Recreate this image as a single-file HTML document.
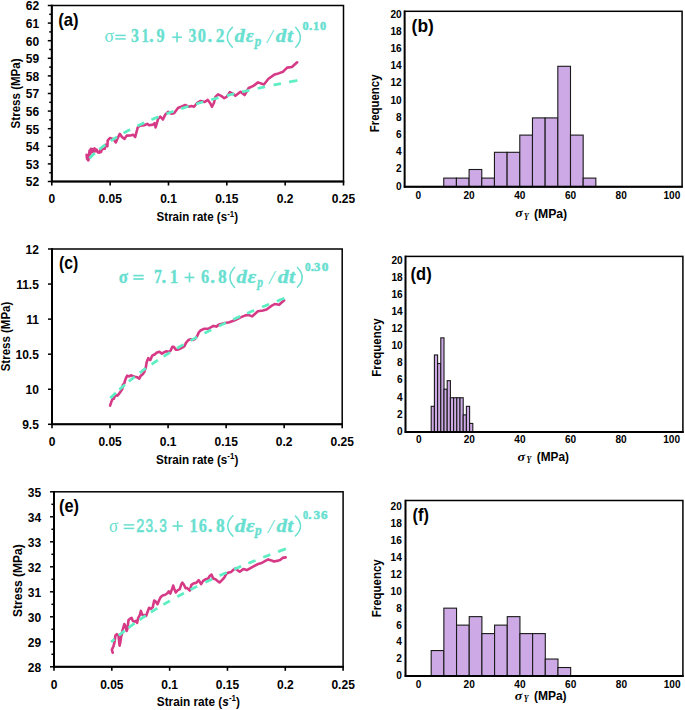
<!DOCTYPE html>
<html><head><meta charset="utf-8"><style>
html,body{margin:0;padding:0;background:#fff;}
body{width:685px;height:710px;overflow:hidden;font-family:"Liberation Sans",sans-serif;}
svg{display:block;}
</style></head><body>
<svg width="685" height="710" viewBox="0 0 685 710">
<rect width="685" height="710" fill="#fff"/>
<rect x="51.80" y="5.50" width="291.70" height="176.00" fill="none" stroke="#000" stroke-width="1.5"/>
<line x1="51.80" y1="4.80" x2="51.80" y2="182.30" stroke="#000" stroke-width="2.00"/>
<line x1="51.00" y1="181.50" x2="344.20" y2="181.50" stroke="#000" stroke-width="2.00"/>
<line x1="47.80" y1="181.50" x2="51.80" y2="181.50" stroke="#000" stroke-width="1.50"/>
<line x1="49.20" y1="172.70" x2="51.80" y2="172.70" stroke="#000" stroke-width="1.50"/>
<text transform="translate(39.10 186.40)" x="-13.32" y="0" font-family='"Liberation Sans", sans-serif' font-weight="bold" font-style="normal" font-size="12.00" fill="#000">52</text>
<line x1="47.80" y1="163.90" x2="51.80" y2="163.90" stroke="#000" stroke-width="1.50"/>
<line x1="49.20" y1="155.10" x2="51.80" y2="155.10" stroke="#000" stroke-width="1.50"/>
<text transform="translate(39.10 168.80)" x="-13.32" y="0" font-family='"Liberation Sans", sans-serif' font-weight="bold" font-style="normal" font-size="12.00" fill="#000">53</text>
<line x1="47.80" y1="146.30" x2="51.80" y2="146.30" stroke="#000" stroke-width="1.50"/>
<line x1="49.20" y1="137.50" x2="51.80" y2="137.50" stroke="#000" stroke-width="1.50"/>
<text transform="translate(39.10 151.20)" x="-13.32" y="0" font-family='"Liberation Sans", sans-serif' font-weight="bold" font-style="normal" font-size="12.00" fill="#000">54</text>
<line x1="47.80" y1="128.70" x2="51.80" y2="128.70" stroke="#000" stroke-width="1.50"/>
<line x1="49.20" y1="119.90" x2="51.80" y2="119.90" stroke="#000" stroke-width="1.50"/>
<text transform="translate(39.10 133.60)" x="-13.32" y="0" font-family='"Liberation Sans", sans-serif' font-weight="bold" font-style="normal" font-size="12.00" fill="#000">55</text>
<line x1="47.80" y1="111.10" x2="51.80" y2="111.10" stroke="#000" stroke-width="1.50"/>
<line x1="49.20" y1="102.30" x2="51.80" y2="102.30" stroke="#000" stroke-width="1.50"/>
<text transform="translate(39.10 116.00)" x="-13.32" y="0" font-family='"Liberation Sans", sans-serif' font-weight="bold" font-style="normal" font-size="12.00" fill="#000">56</text>
<line x1="47.80" y1="93.50" x2="51.80" y2="93.50" stroke="#000" stroke-width="1.50"/>
<line x1="49.20" y1="84.70" x2="51.80" y2="84.70" stroke="#000" stroke-width="1.50"/>
<text transform="translate(39.10 98.40)" x="-13.32" y="0" font-family='"Liberation Sans", sans-serif' font-weight="bold" font-style="normal" font-size="12.00" fill="#000">57</text>
<line x1="47.80" y1="75.90" x2="51.80" y2="75.90" stroke="#000" stroke-width="1.50"/>
<line x1="49.20" y1="67.10" x2="51.80" y2="67.10" stroke="#000" stroke-width="1.50"/>
<text transform="translate(39.10 80.80)" x="-13.32" y="0" font-family='"Liberation Sans", sans-serif' font-weight="bold" font-style="normal" font-size="12.00" fill="#000">58</text>
<line x1="47.80" y1="58.30" x2="51.80" y2="58.30" stroke="#000" stroke-width="1.50"/>
<line x1="49.20" y1="49.50" x2="51.80" y2="49.50" stroke="#000" stroke-width="1.50"/>
<text transform="translate(39.10 63.20)" x="-13.32" y="0" font-family='"Liberation Sans", sans-serif' font-weight="bold" font-style="normal" font-size="12.00" fill="#000">59</text>
<line x1="47.80" y1="40.70" x2="51.80" y2="40.70" stroke="#000" stroke-width="1.50"/>
<line x1="49.20" y1="31.90" x2="51.80" y2="31.90" stroke="#000" stroke-width="1.50"/>
<text transform="translate(39.10 45.60)" x="-13.32" y="0" font-family='"Liberation Sans", sans-serif' font-weight="bold" font-style="normal" font-size="12.00" fill="#000">60</text>
<line x1="47.80" y1="23.10" x2="51.80" y2="23.10" stroke="#000" stroke-width="1.50"/>
<line x1="49.20" y1="14.30" x2="51.80" y2="14.30" stroke="#000" stroke-width="1.50"/>
<text transform="translate(39.10 28.00)" x="-13.32" y="0" font-family='"Liberation Sans", sans-serif' font-weight="bold" font-style="normal" font-size="12.00" fill="#000">61</text>
<line x1="47.80" y1="5.50" x2="51.80" y2="5.50" stroke="#000" stroke-width="1.50"/>
<text transform="translate(39.10 10.40)" x="-13.32" y="0" font-family='"Liberation Sans", sans-serif' font-weight="bold" font-style="normal" font-size="12.00" fill="#000">62</text>
<line x1="51.80" y1="181.50" x2="51.80" y2="185.50" stroke="#000" stroke-width="1.60"/>
<text transform="translate(51.80 202.80)" x="-3.33" y="0" font-family='"Liberation Sans", sans-serif' font-weight="bold" font-style="normal" font-size="12.00" fill="#000">0</text>
<line x1="110.14" y1="181.50" x2="110.14" y2="185.50" stroke="#000" stroke-width="1.60"/>
<text transform="translate(110.14 202.80)" x="-11.67" y="0" font-family='"Liberation Sans", sans-serif' font-weight="bold" font-style="normal" font-size="12.00" fill="#000">0.05</text>
<line x1="168.48" y1="181.50" x2="168.48" y2="185.50" stroke="#000" stroke-width="1.60"/>
<text transform="translate(168.48 202.80)" x="-8.34" y="0" font-family='"Liberation Sans", sans-serif' font-weight="bold" font-style="normal" font-size="12.00" fill="#000">0.1</text>
<line x1="226.82" y1="181.50" x2="226.82" y2="185.50" stroke="#000" stroke-width="1.60"/>
<text transform="translate(226.82 202.80)" x="-11.67" y="0" font-family='"Liberation Sans", sans-serif' font-weight="bold" font-style="normal" font-size="12.00" fill="#000">0.15</text>
<line x1="285.16" y1="181.50" x2="285.16" y2="185.50" stroke="#000" stroke-width="1.60"/>
<text transform="translate(285.16 202.80)" x="-8.34" y="0" font-family='"Liberation Sans", sans-serif' font-weight="bold" font-style="normal" font-size="12.00" fill="#000">0.2</text>
<line x1="343.50" y1="181.50" x2="343.50" y2="185.50" stroke="#000" stroke-width="1.60"/>
<text transform="translate(343.50 202.80)" x="-11.67" y="0" font-family='"Liberation Sans", sans-serif' font-weight="bold" font-style="normal" font-size="12.00" fill="#000">0.25</text>
<text transform="translate(19.90 128.40) rotate(-90) scale(0.9254 1)" x="-0.00" y="0" font-family='"Liberation Sans", sans-serif' font-weight="bold" font-style="normal" font-size="12.50" fill="#000">Stress (MPa)</text>
<g transform="translate(156.60 221.30) scale(0.9235 1)">
<text x="0" y="0" font-family='"Liberation Sans", sans-serif' font-weight="bold" font-size="12.50">Strain rate (s</text>
<text x="76.42" y="-4.6" font-family='"Liberation Sans", sans-serif' font-weight="bold" font-size="8.5">-1</text>
<text x="83.98" y="0" font-family='"Liberation Sans", sans-serif' font-weight="bold" font-size="12.50">)</text>
</g>
<text transform="translate(58.20 26.40) scale(0.9555 1)" x="-0.00" y="0" font-family='"Liberation Sans", sans-serif' font-weight="bold" font-style="normal" font-size="17.50" fill="#000">(a)</text>
<polyline points="86.6,154.9 87.0,158.6 88.4,160.3 88.8,156.5 89.6,150.5 90.1,154.5 90.9,148.7 91.8,152.3 92.8,149.0 93.6,151.8 94.6,148.4 95.6,151.2 96.6,149.6 97.8,152.2 99.3,152.7 100.3,150.2 101.0,152.0 101.9,149.1 104.8,148.7 105.5,144.7 107.4,146.2 107.7,140.3 109.9,138.1 111.4,138.5 113.6,139.2 115.8,142.5 117.2,139.2 119.8,133.8 122.0,137.0 124.5,138.9 126.7,135.6 130.4,135.5 133.3,134.8 135.2,137.0 137.7,127.5 139.9,125.8 144.2,125.3 147.2,123.9 149.3,125.3 153.0,124.6 154.5,123.1 155.6,127.5 158.1,118.8 160.3,116.6 162.9,119.5 165.4,114.4 168.3,111.8 171.2,113.6 174.1,113.2 178.2,107.8 181.2,106.8 185.3,105.0 188.9,106.8 191.5,106.1 194.0,106.8 197.1,103.0 200.7,101.0 204.7,102.0 207.8,99.9 210.4,103.5 211.9,106.8 213.9,103.0 215.5,96.9 218.0,94.3 221.1,95.8 224.2,98.2 226.7,96.9 229.8,92.1 232.3,93.3 235.4,95.8 240.5,91.8 244.6,95.0 248.7,88.0 253.4,85.9 258.0,82.4 263.9,84.5 268.5,78.7 274.4,74.6 278.5,73.4 283.1,71.7 287.2,67.6 291.9,67.0 297.2,62.3" fill="none" stroke="#D63A86" stroke-width="2.6" stroke-linejoin="round" stroke-linecap="round"/>
<path d="M89.42 158.24 L90.26 157.41 L91.10 156.60 L91.93 155.80 L92.77 155.01 L93.61 154.24 L94.45 153.48 L94.87 153.11 M99.34 149.32 L100.18 148.64 L101.02 147.98 L101.85 147.32 L102.69 146.68 L103.53 146.04 L104.37 145.41 L105.21 144.80 L105.35 144.69 M110.80 140.89 L111.63 140.33 L112.47 139.78 L113.31 139.24 L114.15 138.71 L114.99 138.18 L115.83 137.65 L116.66 137.13 L117.08 136.88 M123.51 133.12 L124.35 132.65 L125.19 132.19 L126.03 131.73 L126.86 131.28 L127.70 130.83 L128.54 130.38 L129.38 129.94 L130.08 129.58 M137.48 125.90 L138.32 125.50 L139.16 125.10 L140.00 124.71 L140.84 124.32 L141.67 123.94 L142.51 123.55 L143.35 123.18 L144.19 122.80 L144.33 122.74 M151.45 119.67 L152.29 119.32 L153.13 118.97 L153.97 118.63 L154.81 118.29 L155.65 117.95 L156.48 117.61 L157.32 117.28 L158.16 116.95 L158.44 116.84 M166.40 113.82 L167.24 113.51 L168.08 113.20 L168.92 112.90 L169.76 112.60 L170.60 112.30 L171.43 112.00 L172.27 111.71 L173.11 111.41 L173.53 111.27 M181.21 108.66 L182.05 108.39 L182.89 108.11 L183.73 107.84 L184.57 107.57 L185.41 107.30 L186.24 107.03 L187.08 106.77 L187.92 106.50 L188.48 106.33 M196.02 104.02 L196.86 103.77 L197.70 103.52 L198.54 103.27 L199.38 103.02 L200.22 102.78 L201.05 102.53 L201.89 102.29 L202.73 102.05 L203.29 101.89 M211.11 99.70 L211.95 99.47 L212.79 99.25 L213.63 99.02 L214.47 98.79 L215.31 98.57 L216.14 98.35 L216.98 98.12 L217.82 97.90 L218.52 97.72 M226.90 95.57 L227.74 95.36 L228.58 95.15 L229.42 94.94 L230.26 94.73 L231.09 94.53 L231.93 94.32 L232.77 94.12 L233.61 93.91 L234.17 93.78 M242.13 91.89 L242.97 91.69 L243.81 91.50 L244.65 91.30 L245.49 91.11 L246.32 90.92 L247.16 90.73 L248.00 90.54 L248.84 90.35 L249.40 90.22 M257.64 88.40 L258.48 88.22 L259.32 88.04 L260.16 87.86 L260.99 87.68 L261.83 87.50 L262.67 87.32 L263.51 87.14 L264.35 86.96 L265.05 86.82 M273.57 85.06 L274.41 84.89 L275.25 84.72 L276.08 84.55 L276.92 84.38 L277.76 84.21 L278.60 84.04 L279.44 83.88 L280.28 83.71 L280.97 83.57 M289.08 82.00 L289.92 81.84 L290.75 81.68 L291.59 81.52 L292.43 81.37 L293.27 81.21 L294.11 81.05 L294.95 80.89 L295.78 80.74 L296.62 80.58 L297.32 80.45" fill="none" stroke="#5FEEC4" stroke-width="2.75" stroke-linecap="butt"/>
<rect x="52.00" y="249.00" width="290.20" height="175.30" fill="none" stroke="#000" stroke-width="1.5"/>
<line x1="52.00" y1="248.30" x2="52.00" y2="425.10" stroke="#000" stroke-width="2.00"/>
<line x1="51.20" y1="424.30" x2="342.90" y2="424.30" stroke="#000" stroke-width="2.00"/>
<line x1="48.00" y1="424.30" x2="52.00" y2="424.30" stroke="#000" stroke-width="1.50"/>
<text transform="translate(38.80 429.20)" x="-16.68" y="0" font-family='"Liberation Sans", sans-serif' font-weight="bold" font-style="normal" font-size="12.00" fill="#000">9.5</text>
<line x1="48.00" y1="389.24" x2="52.00" y2="389.24" stroke="#000" stroke-width="1.50"/>
<text transform="translate(38.80 394.14)" x="-13.32" y="0" font-family='"Liberation Sans", sans-serif' font-weight="bold" font-style="normal" font-size="12.00" fill="#000">10</text>
<line x1="48.00" y1="354.18" x2="52.00" y2="354.18" stroke="#000" stroke-width="1.50"/>
<text transform="translate(38.80 359.08)" x="-23.34" y="0" font-family='"Liberation Sans", sans-serif' font-weight="bold" font-style="normal" font-size="12.00" fill="#000">10.5</text>
<line x1="48.00" y1="319.12" x2="52.00" y2="319.12" stroke="#000" stroke-width="1.50"/>
<text transform="translate(38.80 324.02)" x="-12.66" y="0" font-family='"Liberation Sans", sans-serif' font-weight="bold" font-style="normal" font-size="12.00" fill="#000">11</text>
<line x1="48.00" y1="284.06" x2="52.00" y2="284.06" stroke="#000" stroke-width="1.50"/>
<text transform="translate(38.80 288.96)" x="-22.68" y="0" font-family='"Liberation Sans", sans-serif' font-weight="bold" font-style="normal" font-size="12.00" fill="#000">11.5</text>
<line x1="48.00" y1="249.00" x2="52.00" y2="249.00" stroke="#000" stroke-width="1.50"/>
<text transform="translate(38.80 253.90)" x="-13.32" y="0" font-family='"Liberation Sans", sans-serif' font-weight="bold" font-style="normal" font-size="12.00" fill="#000">12</text>
<line x1="52.00" y1="424.30" x2="52.00" y2="428.30" stroke="#000" stroke-width="1.60"/>
<text transform="translate(52.00 446.00)" x="-3.33" y="0" font-family='"Liberation Sans", sans-serif' font-weight="bold" font-style="normal" font-size="12.00" fill="#000">0</text>
<line x1="110.04" y1="424.30" x2="110.04" y2="428.30" stroke="#000" stroke-width="1.60"/>
<text transform="translate(110.04 446.00)" x="-11.67" y="0" font-family='"Liberation Sans", sans-serif' font-weight="bold" font-style="normal" font-size="12.00" fill="#000">0.05</text>
<line x1="168.08" y1="424.30" x2="168.08" y2="428.30" stroke="#000" stroke-width="1.60"/>
<text transform="translate(168.08 446.00)" x="-8.34" y="0" font-family='"Liberation Sans", sans-serif' font-weight="bold" font-style="normal" font-size="12.00" fill="#000">0.1</text>
<line x1="226.12" y1="424.30" x2="226.12" y2="428.30" stroke="#000" stroke-width="1.60"/>
<text transform="translate(226.12 446.00)" x="-11.67" y="0" font-family='"Liberation Sans", sans-serif' font-weight="bold" font-style="normal" font-size="12.00" fill="#000">0.15</text>
<line x1="284.16" y1="424.30" x2="284.16" y2="428.30" stroke="#000" stroke-width="1.60"/>
<text transform="translate(284.16 446.00)" x="-8.34" y="0" font-family='"Liberation Sans", sans-serif' font-weight="bold" font-style="normal" font-size="12.00" fill="#000">0.2</text>
<line x1="342.20" y1="424.30" x2="342.20" y2="428.30" stroke="#000" stroke-width="1.60"/>
<text transform="translate(342.20 446.00)" x="-11.67" y="0" font-family='"Liberation Sans", sans-serif' font-weight="bold" font-style="normal" font-size="12.00" fill="#000">0.25</text>
<text transform="translate(10.00 371.30) rotate(-90) scale(0.9188 1)" x="-0.00" y="0" font-family='"Liberation Sans", sans-serif' font-weight="bold" font-style="normal" font-size="12.50" fill="#000">Stress (MPa)</text>
<g transform="translate(156.10 463.60) scale(0.9326 1)">
<text x="0" y="0" font-family='"Liberation Sans", sans-serif' font-weight="bold" font-size="12.50">Strain rate (s</text>
<text x="76.42" y="-4.6" font-family='"Liberation Sans", sans-serif' font-weight="bold" font-size="8.5">-1</text>
<text x="83.98" y="0" font-family='"Liberation Sans", sans-serif' font-weight="bold" font-size="12.50">)</text>
</g>
<text transform="translate(59.00 269.40) scale(0.8993 1)" x="-0.00" y="0" font-family='"Liberation Sans", sans-serif' font-weight="bold" font-style="normal" font-size="17.50" fill="#000">(c)</text>
<polyline points="110.1,405.6 111.2,402.3 112.3,399.4 113.8,398.7 115.2,395.0 117.4,395.8 119.2,393.6 120.7,391.4 122.2,389.2 122.9,384.8 124.3,383.4 125.1,380.4 126.2,377.5 127.3,375.7 129.1,376.4 130.9,375.3 133.1,376.1 134.9,376.8 137.1,377.2 139.3,378.6 140.8,375.7 143.0,373.9 144.4,371.7 145.9,367.0 146.6,362.5 148.2,358.1 150.2,360.1 152.2,355.7 154.6,354.5 157.0,352.5 159.5,351.7 161.9,353.7 164.3,352.1 166.3,351.3 168.7,352.1 170.7,350.5 172.3,346.9 173.9,346.9 175.9,349.7 177.9,349.7 180.3,348.5 182.8,347.3 184.4,346.1 186.0,342.9 188.4,340.0 190.8,339.2 193.2,340.0 195.2,338.8 197.2,336.0 198.8,332.4 200.5,330.5 203.9,328.8 208.2,328.8 213.4,325.9 216.3,326.6 219.2,324.4 225.0,323.0 229.4,322.2 235.3,320.0 241.1,317.1 245.5,315.4 248.4,314.9 252.0,316.4 257.9,311.3 263.0,310.5 266.6,309.5 271.0,306.2 274.7,304.0 279.1,304.7 284.2,300.3" fill="none" stroke="#D63A86" stroke-width="2.6" stroke-linejoin="round" stroke-linecap="round"/>
<path d="M110.35 398.17 L111.05 397.48 L111.75 396.79 L112.45 396.10 L113.15 395.42 L113.84 394.75 L114.54 394.08 L115.24 393.42 L115.82 392.87 M119.32 389.65 L120.02 389.02 L120.72 388.39 L121.42 387.77 L122.12 387.16 L122.81 386.54 L123.51 385.94 L124.21 385.33 L124.91 384.73 L125.03 384.63 M128.87 381.41 L129.57 380.83 L130.27 380.26 L130.97 379.70 L131.67 379.13 L132.37 378.57 L133.07 378.02 L133.76 377.46 L134.46 376.91 L134.70 376.73 M139.82 372.80 L140.52 372.28 L141.22 371.76 L141.92 371.24 L142.62 370.72 L143.32 370.21 L144.02 369.70 L144.72 369.20 L145.41 368.69 L146.00 368.27 M151.59 364.35 L152.29 363.87 L152.99 363.39 L153.69 362.92 L154.38 362.45 L155.08 361.98 L155.78 361.51 L156.48 361.04 L157.18 360.58 L157.88 360.12 L157.88 360.12 M163.59 356.43 L164.29 355.98 L164.98 355.54 L165.68 355.10 L166.38 354.67 L167.08 354.23 L167.78 353.80 L168.48 353.37 L169.18 352.94 L169.88 352.51 L169.99 352.44 M176.98 348.26 L177.68 347.85 L178.38 347.44 L179.08 347.03 L179.78 346.63 L180.48 346.23 L181.18 345.83 L181.88 345.43 L182.58 345.03 L183.27 344.63 L183.51 344.50 M190.50 340.61 L191.20 340.23 L191.90 339.85 L192.59 339.48 L193.29 339.10 L193.99 338.72 L194.69 338.35 L195.39 337.98 L196.09 337.60 L196.79 337.23 L197.14 337.05 M204.48 333.24 L205.18 332.88 L205.87 332.53 L206.57 332.17 L207.27 331.82 L207.97 331.47 L208.67 331.12 L209.37 330.77 L210.07 330.42 L210.77 330.07 L211.23 329.84 M219.04 326.04 L219.74 325.71 L220.44 325.38 L221.13 325.05 L221.83 324.71 L222.53 324.38 L223.23 324.05 L223.93 323.73 L224.63 323.40 L225.33 323.07 L225.91 322.80 M233.37 319.38 L234.07 319.07 L234.76 318.75 L235.46 318.44 L236.16 318.12 L236.86 317.81 L237.56 317.50 L238.26 317.19 L238.96 316.88 L239.66 316.57 L240.24 316.32 M247.11 313.33 L247.81 313.03 L248.51 312.73 L249.21 312.43 L249.91 312.13 L250.61 311.84 L251.31 311.54 L252.01 311.24 L252.70 310.95 L253.40 310.66 L254.10 310.36 L254.10 310.36 M262.02 307.09 L262.72 306.80 L263.42 306.52 L264.12 306.24 L264.82 305.95 L265.52 305.67 L266.22 305.39 L266.92 305.11 L267.62 304.83 L268.31 304.55 L269.01 304.27 L269.13 304.22 M276.82 301.20 L277.52 300.93 L278.22 300.66 L278.92 300.39 L279.61 300.12 L280.31 299.85 L281.01 299.58 L281.71 299.31 L282.41 299.04 L283.11 298.78 L283.81 298.51 L284.51 298.24 L284.51 298.24" fill="none" stroke="#5FEEC4" stroke-width="2.75" stroke-linecap="butt"/>
<rect x="54.00" y="491.80" width="289.10" height="175.00" fill="none" stroke="#000" stroke-width="1.5"/>
<line x1="54.00" y1="491.10" x2="54.00" y2="667.60" stroke="#000" stroke-width="2.00"/>
<line x1="53.20" y1="666.80" x2="343.80" y2="666.80" stroke="#000" stroke-width="2.00"/>
<line x1="50.00" y1="666.80" x2="54.00" y2="666.80" stroke="#000" stroke-width="1.50"/>
<line x1="51.40" y1="654.30" x2="54.00" y2="654.30" stroke="#000" stroke-width="1.50"/>
<text transform="translate(41.10 671.70)" x="-13.32" y="0" font-family='"Liberation Sans", sans-serif' font-weight="bold" font-style="normal" font-size="12.00" fill="#000">28</text>
<line x1="50.00" y1="641.80" x2="54.00" y2="641.80" stroke="#000" stroke-width="1.50"/>
<line x1="51.40" y1="629.30" x2="54.00" y2="629.30" stroke="#000" stroke-width="1.50"/>
<text transform="translate(41.10 646.70)" x="-13.32" y="0" font-family='"Liberation Sans", sans-serif' font-weight="bold" font-style="normal" font-size="12.00" fill="#000">29</text>
<line x1="50.00" y1="616.80" x2="54.00" y2="616.80" stroke="#000" stroke-width="1.50"/>
<line x1="51.40" y1="604.30" x2="54.00" y2="604.30" stroke="#000" stroke-width="1.50"/>
<text transform="translate(41.10 621.70)" x="-13.32" y="0" font-family='"Liberation Sans", sans-serif' font-weight="bold" font-style="normal" font-size="12.00" fill="#000">30</text>
<line x1="50.00" y1="591.80" x2="54.00" y2="591.80" stroke="#000" stroke-width="1.50"/>
<line x1="51.40" y1="579.30" x2="54.00" y2="579.30" stroke="#000" stroke-width="1.50"/>
<text transform="translate(41.10 596.70)" x="-13.32" y="0" font-family='"Liberation Sans", sans-serif' font-weight="bold" font-style="normal" font-size="12.00" fill="#000">31</text>
<line x1="50.00" y1="566.80" x2="54.00" y2="566.80" stroke="#000" stroke-width="1.50"/>
<line x1="51.40" y1="554.30" x2="54.00" y2="554.30" stroke="#000" stroke-width="1.50"/>
<text transform="translate(41.10 571.70)" x="-13.32" y="0" font-family='"Liberation Sans", sans-serif' font-weight="bold" font-style="normal" font-size="12.00" fill="#000">32</text>
<line x1="50.00" y1="541.80" x2="54.00" y2="541.80" stroke="#000" stroke-width="1.50"/>
<line x1="51.40" y1="529.30" x2="54.00" y2="529.30" stroke="#000" stroke-width="1.50"/>
<text transform="translate(41.10 546.70)" x="-13.32" y="0" font-family='"Liberation Sans", sans-serif' font-weight="bold" font-style="normal" font-size="12.00" fill="#000">33</text>
<line x1="50.00" y1="516.80" x2="54.00" y2="516.80" stroke="#000" stroke-width="1.50"/>
<line x1="51.40" y1="504.30" x2="54.00" y2="504.30" stroke="#000" stroke-width="1.50"/>
<text transform="translate(41.10 521.70)" x="-13.32" y="0" font-family='"Liberation Sans", sans-serif' font-weight="bold" font-style="normal" font-size="12.00" fill="#000">34</text>
<line x1="50.00" y1="491.80" x2="54.00" y2="491.80" stroke="#000" stroke-width="1.50"/>
<text transform="translate(41.10 496.70)" x="-13.32" y="0" font-family='"Liberation Sans", sans-serif' font-weight="bold" font-style="normal" font-size="12.00" fill="#000">35</text>
<line x1="54.00" y1="666.80" x2="54.00" y2="670.80" stroke="#000" stroke-width="1.60"/>
<text transform="translate(54.00 688.60)" x="-3.33" y="0" font-family='"Liberation Sans", sans-serif' font-weight="bold" font-style="normal" font-size="12.00" fill="#000">0</text>
<line x1="111.82" y1="666.80" x2="111.82" y2="670.80" stroke="#000" stroke-width="1.60"/>
<text transform="translate(111.82 688.60)" x="-11.67" y="0" font-family='"Liberation Sans", sans-serif' font-weight="bold" font-style="normal" font-size="12.00" fill="#000">0.05</text>
<line x1="169.64" y1="666.80" x2="169.64" y2="670.80" stroke="#000" stroke-width="1.60"/>
<text transform="translate(169.64 688.60)" x="-8.34" y="0" font-family='"Liberation Sans", sans-serif' font-weight="bold" font-style="normal" font-size="12.00" fill="#000">0.1</text>
<line x1="227.46" y1="666.80" x2="227.46" y2="670.80" stroke="#000" stroke-width="1.60"/>
<text transform="translate(227.46 688.60)" x="-11.67" y="0" font-family='"Liberation Sans", sans-serif' font-weight="bold" font-style="normal" font-size="12.00" fill="#000">0.15</text>
<line x1="285.28" y1="666.80" x2="285.28" y2="670.80" stroke="#000" stroke-width="1.60"/>
<text transform="translate(285.28 688.60)" x="-8.34" y="0" font-family='"Liberation Sans", sans-serif' font-weight="bold" font-style="normal" font-size="12.00" fill="#000">0.2</text>
<line x1="343.10" y1="666.80" x2="343.10" y2="670.80" stroke="#000" stroke-width="1.60"/>
<text transform="translate(343.10 688.60)" x="-11.67" y="0" font-family='"Liberation Sans", sans-serif' font-weight="bold" font-style="normal" font-size="12.00" fill="#000">0.25</text>
<text transform="translate(22.20 616.90) rotate(-90) scale(0.9597 1)" x="-0.00" y="0" font-family='"Liberation Sans", sans-serif' font-weight="bold" font-style="normal" font-size="12.50" fill="#000">Stress (MPa)</text>
<g transform="translate(156.80 706.00) scale(0.9440 1)">
<text x="0" y="0" font-family='"Liberation Sans", sans-serif' font-weight="bold" font-size="12.50">Strain rate (</text>
<text x="69.47" y="0" font-family='"Liberation Sans", sans-serif' font-weight="bold" font-style="italic" font-size="12.50">s</text>
<text x="76.42" y="-4.6" font-family='"Liberation Sans", sans-serif' font-weight="bold" font-size="8.5">-1</text>
<text x="83.98" y="0" font-family='"Liberation Sans", sans-serif' font-weight="bold" font-size="12.50">)</text>
</g>
<text transform="translate(59.00 512.00) scale(0.9368 1)" x="-0.00" y="0" font-family='"Liberation Sans", sans-serif' font-weight="bold" font-style="normal" font-size="17.50" fill="#000">(e)</text>
<polyline points="112.7,652.7 111.9,649.6 113.4,646.5 114.6,641.9 115.4,635.7 116.9,634.1 118.5,635.7 119.6,645.7 120.4,641.9 121.2,636.4 122.0,634.1 122.3,631.0 124.3,624.0 125.4,626.4 126.6,631.0 127.4,628.7 128.5,620.2 130.1,618.6 131.6,617.8 132.8,620.9 134.4,621.7 135.9,620.9 137.1,622.9 138.2,617.8 139.8,615.1 140.9,610.9 142.1,614.7 144.2,615.0 146.1,616.0 147.5,612.0 149.1,607.8 150.9,608.9 152.8,607.1 154.2,600.5 155.7,601.6 157.5,604.2 159.0,600.5 160.8,596.9 162.6,595.4 165.2,594.7 167.4,593.2 168.8,591.4 170.3,593.6 172.1,588.9 173.2,585.6 174.3,588.9 175.8,592.5 177.6,590.3 179.8,589.2 181.2,584.5 182.3,582.7 183.8,584.5 185.6,588.3 187.2,588.1 189.8,590.5 191.4,584.9 193.8,583.3 196.2,582.9 198.7,580.1 201.1,584.1 203.1,580.9 205.5,579.3 208.3,578.5 209.9,575.7 211.5,574.5 213.1,578.5 215.5,579.3 217.9,581.3 219.5,582.5 222.0,580.1 224.4,577.3 226.4,573.7 228.8,572.5 231.2,571.9 233.2,570.0 235.2,568.4 237.2,570.0 239.7,571.7 243.3,569.1 246.9,570.1 250.4,568.1 254.0,566.1 258.1,564.0 261.7,563.0 265.3,560.9 268.3,559.4 271.4,560.4 273.9,561.5 277.0,560.9 280.1,559.9 282.6,557.9 285.7,557.4" fill="none" stroke="#D63A86" stroke-width="2.6" stroke-linejoin="round" stroke-linecap="round"/>
<path d="M111.13 642.06 L111.83 641.44 L112.53 640.82 L113.23 640.20 L113.93 639.59 L114.52 639.09 M118.71 635.54 L119.41 634.96 L120.11 634.39 L120.81 633.82 L121.51 633.25 L122.21 632.69 L122.91 632.13 L123.61 631.58 L124.31 631.03 L124.66 630.75 M128.51 627.79 L129.21 627.27 L129.91 626.74 L130.61 626.22 L131.31 625.70 L132.01 625.19 L132.71 624.67 L133.41 624.16 L134.11 623.66 L134.58 623.32 M139.48 619.86 L140.18 619.38 L140.88 618.90 L141.58 618.42 L142.28 617.95 L142.98 617.47 L143.68 617.00 L144.38 616.53 L145.08 616.07 L145.78 615.60 L145.78 615.60 M150.91 612.26 L151.61 611.82 L152.31 611.37 L153.01 610.93 L153.71 610.49 L154.41 610.05 L155.11 609.62 L155.81 609.18 L156.51 608.75 L157.21 608.32 L157.32 608.25 M163.39 604.60 L164.09 604.18 L164.79 603.77 L165.49 603.36 L166.19 602.95 L166.89 602.55 L167.59 602.14 L168.29 601.74 L168.99 601.34 L169.69 600.94 L169.92 600.80 M177.27 596.70 L177.97 596.32 L178.67 595.93 L179.37 595.55 L180.07 595.18 L180.77 594.80 L181.47 594.42 L182.17 594.05 L182.87 593.67 L183.57 593.30 L183.92 593.12 M190.45 589.71 L191.15 589.35 L191.85 588.99 L192.55 588.64 L193.25 588.28 L193.95 587.93 L194.65 587.58 L195.35 587.22 L196.05 586.87 L196.75 586.52 L197.21 586.29 M205.38 582.30 L206.08 581.96 L206.78 581.63 L207.48 581.30 L208.18 580.96 L208.88 580.63 L209.58 580.30 L210.28 579.97 L210.98 579.64 L211.68 579.31 L212.14 579.10 M219.61 575.66 L220.31 575.34 L221.01 575.03 L221.71 574.71 L222.41 574.40 L223.11 574.08 L223.81 573.77 L224.51 573.46 L225.21 573.15 L225.91 572.84 L226.61 572.53 L226.61 572.53 M234.19 569.22 L234.89 568.92 L235.59 568.62 L236.29 568.33 L236.99 568.03 L237.69 567.73 L238.39 567.43 L239.09 567.14 L239.79 566.84 L240.49 566.55 L241.19 566.25 L241.19 566.25 M248.42 563.26 L249.12 562.97 L249.82 562.69 L250.52 562.40 L251.22 562.12 L251.92 561.83 L252.62 561.55 L253.32 561.27 L254.02 560.99 L254.72 560.71 L255.42 560.43 L255.53 560.38 M263.23 557.34 L263.93 557.06 L264.63 556.79 L265.33 556.52 L266.03 556.25 L266.73 555.98 L267.43 555.71 L268.13 555.44 L268.83 555.17 L269.53 554.90 L270.23 554.63 L270.35 554.59 M278.04 551.68 L278.74 551.42 L279.44 551.16 L280.14 550.90 L280.84 550.64 L281.54 550.38 L282.24 550.12 L282.94 549.86 L283.64 549.60 L284.34 549.35 L285.04 549.09 L285.74 548.83 L285.86 548.79" fill="none" stroke="#5FEEC4" stroke-width="2.75" stroke-linecap="butt"/>
<rect x="443.75" y="178.10" width="12.67" height="8.60" fill="#CDAAE6" stroke="#1a1a1a" stroke-width="1.1"/>
<rect x="456.42" y="178.10" width="12.68" height="8.60" fill="#CDAAE6" stroke="#1a1a1a" stroke-width="1.1"/>
<rect x="469.10" y="169.50" width="12.68" height="17.20" fill="#CDAAE6" stroke="#1a1a1a" stroke-width="1.1"/>
<rect x="481.77" y="178.10" width="12.68" height="8.60" fill="#CDAAE6" stroke="#1a1a1a" stroke-width="1.1"/>
<rect x="494.45" y="152.30" width="12.68" height="34.40" fill="#CDAAE6" stroke="#1a1a1a" stroke-width="1.1"/>
<rect x="507.12" y="152.30" width="12.67" height="34.40" fill="#CDAAE6" stroke="#1a1a1a" stroke-width="1.1"/>
<rect x="519.80" y="135.10" width="12.68" height="51.60" fill="#CDAAE6" stroke="#1a1a1a" stroke-width="1.1"/>
<rect x="532.48" y="117.90" width="12.67" height="68.80" fill="#CDAAE6" stroke="#1a1a1a" stroke-width="1.1"/>
<rect x="545.15" y="117.90" width="12.68" height="68.80" fill="#CDAAE6" stroke="#1a1a1a" stroke-width="1.1"/>
<rect x="557.83" y="66.30" width="12.67" height="120.40" fill="#CDAAE6" stroke="#1a1a1a" stroke-width="1.1"/>
<rect x="570.50" y="135.10" width="12.67" height="51.60" fill="#CDAAE6" stroke="#1a1a1a" stroke-width="1.1"/>
<rect x="583.17" y="178.10" width="12.68" height="8.60" fill="#CDAAE6" stroke="#1a1a1a" stroke-width="1.1"/>
<rect x="404.60" y="11.30" width="277.50" height="175.40" fill="none" stroke="#000" stroke-width="1.5"/>
<line x1="404.60" y1="10.60" x2="404.60" y2="187.70" stroke="#000" stroke-width="1.70"/>
<line x1="403.80" y1="186.70" x2="682.90" y2="186.70" stroke="#000" stroke-width="2.00"/>
<text transform="translate(401.60 189.60) scale(0.9200 1)" x="-6.11" y="0" font-family='"Liberation Sans", sans-serif' font-weight="bold" font-style="normal" font-size="11.00" fill="#000">0</text>
<text transform="translate(401.60 172.40) scale(0.9200 1)" x="-6.11" y="0" font-family='"Liberation Sans", sans-serif' font-weight="bold" font-style="normal" font-size="11.00" fill="#000">2</text>
<text transform="translate(401.60 155.20) scale(0.9200 1)" x="-6.11" y="0" font-family='"Liberation Sans", sans-serif' font-weight="bold" font-style="normal" font-size="11.00" fill="#000">4</text>
<text transform="translate(401.60 138.00) scale(0.9200 1)" x="-6.11" y="0" font-family='"Liberation Sans", sans-serif' font-weight="bold" font-style="normal" font-size="11.00" fill="#000">6</text>
<text transform="translate(401.60 120.80) scale(0.9200 1)" x="-6.11" y="0" font-family='"Liberation Sans", sans-serif' font-weight="bold" font-style="normal" font-size="11.00" fill="#000">8</text>
<text transform="translate(401.60 103.60) scale(0.9200 1)" x="-12.21" y="0" font-family='"Liberation Sans", sans-serif' font-weight="bold" font-style="normal" font-size="11.00" fill="#000">10</text>
<text transform="translate(401.60 86.40) scale(0.9200 1)" x="-12.21" y="0" font-family='"Liberation Sans", sans-serif' font-weight="bold" font-style="normal" font-size="11.00" fill="#000">12</text>
<text transform="translate(401.60 69.20) scale(0.9200 1)" x="-12.21" y="0" font-family='"Liberation Sans", sans-serif' font-weight="bold" font-style="normal" font-size="11.00" fill="#000">14</text>
<text transform="translate(401.60 52.00) scale(0.9200 1)" x="-12.21" y="0" font-family='"Liberation Sans", sans-serif' font-weight="bold" font-style="normal" font-size="11.00" fill="#000">16</text>
<text transform="translate(401.60 34.80) scale(0.9200 1)" x="-12.21" y="0" font-family='"Liberation Sans", sans-serif' font-weight="bold" font-style="normal" font-size="11.00" fill="#000">18</text>
<text transform="translate(401.60 17.60) scale(0.9200 1)" x="-12.21" y="0" font-family='"Liberation Sans", sans-serif' font-weight="bold" font-style="normal" font-size="11.00" fill="#000">20</text>
<text transform="translate(418.40 198.60) scale(0.9200 1)" x="-3.05" y="0" font-family='"Liberation Sans", sans-serif' font-weight="bold" font-style="normal" font-size="11.00" fill="#000">0</text>
<text transform="translate(469.10 198.60) scale(0.9200 1)" x="-6.11" y="0" font-family='"Liberation Sans", sans-serif' font-weight="bold" font-style="normal" font-size="11.00" fill="#000">20</text>
<text transform="translate(519.80 198.60) scale(0.9200 1)" x="-6.11" y="0" font-family='"Liberation Sans", sans-serif' font-weight="bold" font-style="normal" font-size="11.00" fill="#000">40</text>
<text transform="translate(570.50 198.60) scale(0.9200 1)" x="-6.11" y="0" font-family='"Liberation Sans", sans-serif' font-weight="bold" font-style="normal" font-size="11.00" fill="#000">60</text>
<text transform="translate(621.20 198.60) scale(0.9200 1)" x="-6.11" y="0" font-family='"Liberation Sans", sans-serif' font-weight="bold" font-style="normal" font-size="11.00" fill="#000">80</text>
<text transform="translate(671.90 198.60) scale(0.9200 1)" x="-9.19" y="0" font-family='"Liberation Sans", sans-serif' font-weight="bold" font-style="normal" font-size="11.00" fill="#000">100</text>
<text transform="translate(378.80 132.30) rotate(-90) scale(0.9545 1)" x="-0.00" y="0" font-family='"Liberation Sans", sans-serif' font-weight="bold" font-style="normal" font-size="12.00" fill="#000">Frequency</text>
<text transform="translate(515.20 217.30) scale(1.1186 1)" x="-0.00" y="0" font-family='"Liberation Serif", serif' font-weight="bold" font-style="italic" font-size="12.50" fill="#000">σ</text>
<text transform="translate(524.10 219.80) scale(0.7457 1)" x="-0.00" y="0" font-family='"Liberation Serif", serif' font-weight="bold" font-style="italic" font-size="10.30" fill="#000">Y</text>
<text transform="translate(533.90 217.60) scale(1.0202 1)" x="-0.00" y="0" font-family='"Liberation Sans", sans-serif' font-weight="bold" font-style="normal" font-size="12.00" fill="#000">(MPa)</text>
<text transform="translate(411.60 31.60) scale(0.9950 1)" x="-0.00" y="0" font-family='"Liberation Sans", sans-serif' font-weight="bold" font-style="normal" font-size="17.50" fill="#000">(b)</text>
<rect x="431.20" y="406.32" width="3.20" height="25.68" fill="#CDAAE6" stroke="#1a1a1a" stroke-width="1.1"/>
<rect x="434.40" y="354.96" width="3.20" height="77.04" fill="#CDAAE6" stroke="#1a1a1a" stroke-width="1.1"/>
<rect x="437.60" y="363.52" width="3.20" height="68.48" fill="#CDAAE6" stroke="#1a1a1a" stroke-width="1.1"/>
<rect x="440.80" y="337.84" width="3.20" height="94.16" fill="#CDAAE6" stroke="#1a1a1a" stroke-width="1.1"/>
<rect x="444.00" y="389.20" width="3.20" height="42.80" fill="#CDAAE6" stroke="#1a1a1a" stroke-width="1.1"/>
<rect x="447.20" y="380.64" width="3.20" height="51.36" fill="#CDAAE6" stroke="#1a1a1a" stroke-width="1.1"/>
<rect x="450.40" y="397.76" width="3.20" height="34.24" fill="#CDAAE6" stroke="#1a1a1a" stroke-width="1.1"/>
<rect x="453.60" y="397.76" width="3.20" height="34.24" fill="#CDAAE6" stroke="#1a1a1a" stroke-width="1.1"/>
<rect x="456.80" y="397.76" width="3.20" height="34.24" fill="#CDAAE6" stroke="#1a1a1a" stroke-width="1.1"/>
<rect x="460.00" y="397.76" width="3.20" height="34.24" fill="#CDAAE6" stroke="#1a1a1a" stroke-width="1.1"/>
<rect x="463.20" y="414.88" width="3.20" height="17.12" fill="#CDAAE6" stroke="#1a1a1a" stroke-width="1.1"/>
<rect x="466.40" y="406.32" width="3.20" height="25.68" fill="#CDAAE6" stroke="#1a1a1a" stroke-width="1.1"/>
<rect x="469.60" y="423.44" width="3.20" height="8.56" fill="#CDAAE6" stroke="#1a1a1a" stroke-width="1.1"/>
<rect x="405.50" y="256.40" width="277.40" height="175.60" fill="none" stroke="#000" stroke-width="1.5"/>
<line x1="405.50" y1="255.70" x2="405.50" y2="433.00" stroke="#000" stroke-width="1.70"/>
<line x1="404.70" y1="432.00" x2="683.70" y2="432.00" stroke="#000" stroke-width="2.00"/>
<text transform="translate(402.60 434.75) scale(0.9200 1)" x="-6.11" y="0" font-family='"Liberation Sans", sans-serif' font-weight="bold" font-style="normal" font-size="11.00" fill="#000">0</text>
<text transform="translate(402.60 417.63) scale(0.9200 1)" x="-6.11" y="0" font-family='"Liberation Sans", sans-serif' font-weight="bold" font-style="normal" font-size="11.00" fill="#000">2</text>
<text transform="translate(402.60 400.51) scale(0.9200 1)" x="-6.11" y="0" font-family='"Liberation Sans", sans-serif' font-weight="bold" font-style="normal" font-size="11.00" fill="#000">4</text>
<text transform="translate(402.60 383.39) scale(0.9200 1)" x="-6.11" y="0" font-family='"Liberation Sans", sans-serif' font-weight="bold" font-style="normal" font-size="11.00" fill="#000">6</text>
<text transform="translate(402.60 366.27) scale(0.9200 1)" x="-6.11" y="0" font-family='"Liberation Sans", sans-serif' font-weight="bold" font-style="normal" font-size="11.00" fill="#000">8</text>
<text transform="translate(402.60 349.15) scale(0.9200 1)" x="-12.21" y="0" font-family='"Liberation Sans", sans-serif' font-weight="bold" font-style="normal" font-size="11.00" fill="#000">10</text>
<text transform="translate(402.60 332.03) scale(0.9200 1)" x="-12.21" y="0" font-family='"Liberation Sans", sans-serif' font-weight="bold" font-style="normal" font-size="11.00" fill="#000">12</text>
<text transform="translate(402.60 314.91) scale(0.9200 1)" x="-12.21" y="0" font-family='"Liberation Sans", sans-serif' font-weight="bold" font-style="normal" font-size="11.00" fill="#000">14</text>
<text transform="translate(402.60 297.79) scale(0.9200 1)" x="-12.21" y="0" font-family='"Liberation Sans", sans-serif' font-weight="bold" font-style="normal" font-size="11.00" fill="#000">16</text>
<text transform="translate(402.60 280.67) scale(0.9200 1)" x="-12.21" y="0" font-family='"Liberation Sans", sans-serif' font-weight="bold" font-style="normal" font-size="11.00" fill="#000">18</text>
<text transform="translate(402.60 263.55) scale(0.9200 1)" x="-12.21" y="0" font-family='"Liberation Sans", sans-serif' font-weight="bold" font-style="normal" font-size="11.00" fill="#000">20</text>
<text transform="translate(418.70 443.20) scale(0.9200 1)" x="-3.05" y="0" font-family='"Liberation Sans", sans-serif' font-weight="bold" font-style="normal" font-size="11.00" fill="#000">0</text>
<text transform="translate(469.30 443.20) scale(0.9200 1)" x="-6.11" y="0" font-family='"Liberation Sans", sans-serif' font-weight="bold" font-style="normal" font-size="11.00" fill="#000">20</text>
<text transform="translate(519.90 443.20) scale(0.9200 1)" x="-6.11" y="0" font-family='"Liberation Sans", sans-serif' font-weight="bold" font-style="normal" font-size="11.00" fill="#000">40</text>
<text transform="translate(570.50 443.20) scale(0.9200 1)" x="-6.11" y="0" font-family='"Liberation Sans", sans-serif' font-weight="bold" font-style="normal" font-size="11.00" fill="#000">60</text>
<text transform="translate(621.10 443.20) scale(0.9200 1)" x="-6.11" y="0" font-family='"Liberation Sans", sans-serif' font-weight="bold" font-style="normal" font-size="11.00" fill="#000">80</text>
<text transform="translate(671.70 443.20) scale(0.9200 1)" x="-9.19" y="0" font-family='"Liberation Sans", sans-serif' font-weight="bold" font-style="normal" font-size="11.00" fill="#000">100</text>
<text transform="translate(380.50 376.80) rotate(-90) scale(0.9627 1)" x="-0.00" y="0" font-family='"Liberation Sans", sans-serif' font-weight="bold" font-style="normal" font-size="12.00" fill="#000">Frequency</text>
<text transform="translate(517.50 460.80) scale(1.1186 1)" x="-0.00" y="0" font-family='"Liberation Serif", serif' font-weight="bold" font-style="italic" font-size="12.50" fill="#000">σ</text>
<text transform="translate(526.40 463.30) scale(0.7457 1)" x="-0.00" y="0" font-family='"Liberation Serif", serif' font-weight="bold" font-style="italic" font-size="10.30" fill="#000">Y</text>
<text transform="translate(536.80 461.10) scale(0.9835 1)" x="-0.00" y="0" font-family='"Liberation Sans", sans-serif' font-weight="bold" font-style="normal" font-size="12.00" fill="#000">(MPa)</text>
<text transform="translate(410.60 280.40) scale(0.9457 1)" x="-0.00" y="0" font-family='"Liberation Sans", sans-serif' font-weight="bold" font-style="normal" font-size="17.50" fill="#000">(d)</text>
<rect x="431.18" y="650.56" width="12.68" height="25.44" fill="#CDAAE6" stroke="#1a1a1a" stroke-width="1.1"/>
<rect x="443.86" y="608.16" width="12.68" height="67.84" fill="#CDAAE6" stroke="#1a1a1a" stroke-width="1.1"/>
<rect x="456.54" y="625.12" width="12.68" height="50.88" fill="#CDAAE6" stroke="#1a1a1a" stroke-width="1.1"/>
<rect x="469.22" y="616.64" width="12.68" height="59.36" fill="#CDAAE6" stroke="#1a1a1a" stroke-width="1.1"/>
<rect x="481.90" y="633.60" width="12.68" height="42.40" fill="#CDAAE6" stroke="#1a1a1a" stroke-width="1.1"/>
<rect x="494.58" y="625.12" width="12.68" height="50.88" fill="#CDAAE6" stroke="#1a1a1a" stroke-width="1.1"/>
<rect x="507.26" y="616.64" width="12.68" height="59.36" fill="#CDAAE6" stroke="#1a1a1a" stroke-width="1.1"/>
<rect x="519.94" y="633.60" width="12.68" height="42.40" fill="#CDAAE6" stroke="#1a1a1a" stroke-width="1.1"/>
<rect x="532.62" y="633.60" width="12.68" height="42.40" fill="#CDAAE6" stroke="#1a1a1a" stroke-width="1.1"/>
<rect x="545.30" y="659.04" width="12.68" height="16.96" fill="#CDAAE6" stroke="#1a1a1a" stroke-width="1.1"/>
<rect x="557.98" y="667.52" width="12.68" height="8.48" fill="#CDAAE6" stroke="#1a1a1a" stroke-width="1.1"/>
<rect x="405.50" y="500.50" width="277.40" height="175.50" fill="none" stroke="#000" stroke-width="1.5"/>
<line x1="405.50" y1="499.80" x2="405.50" y2="677.00" stroke="#000" stroke-width="1.70"/>
<line x1="404.70" y1="676.00" x2="683.70" y2="676.00" stroke="#000" stroke-width="2.00"/>
<text transform="translate(401.80 679.40) scale(0.9200 1)" x="-6.11" y="0" font-family='"Liberation Sans", sans-serif' font-weight="bold" font-style="normal" font-size="11.00" fill="#000">0</text>
<text transform="translate(401.80 662.44) scale(0.9200 1)" x="-6.11" y="0" font-family='"Liberation Sans", sans-serif' font-weight="bold" font-style="normal" font-size="11.00" fill="#000">2</text>
<text transform="translate(401.80 645.48) scale(0.9200 1)" x="-6.11" y="0" font-family='"Liberation Sans", sans-serif' font-weight="bold" font-style="normal" font-size="11.00" fill="#000">4</text>
<text transform="translate(401.80 628.52) scale(0.9200 1)" x="-6.11" y="0" font-family='"Liberation Sans", sans-serif' font-weight="bold" font-style="normal" font-size="11.00" fill="#000">6</text>
<text transform="translate(401.80 611.56) scale(0.9200 1)" x="-6.11" y="0" font-family='"Liberation Sans", sans-serif' font-weight="bold" font-style="normal" font-size="11.00" fill="#000">8</text>
<text transform="translate(401.80 594.60) scale(0.9200 1)" x="-12.21" y="0" font-family='"Liberation Sans", sans-serif' font-weight="bold" font-style="normal" font-size="11.00" fill="#000">10</text>
<text transform="translate(401.80 577.64) scale(0.9200 1)" x="-12.21" y="0" font-family='"Liberation Sans", sans-serif' font-weight="bold" font-style="normal" font-size="11.00" fill="#000">12</text>
<text transform="translate(401.80 560.68) scale(0.9200 1)" x="-12.21" y="0" font-family='"Liberation Sans", sans-serif' font-weight="bold" font-style="normal" font-size="11.00" fill="#000">14</text>
<text transform="translate(401.80 543.72) scale(0.9200 1)" x="-12.21" y="0" font-family='"Liberation Sans", sans-serif' font-weight="bold" font-style="normal" font-size="11.00" fill="#000">16</text>
<text transform="translate(401.80 526.76) scale(0.9200 1)" x="-12.21" y="0" font-family='"Liberation Sans", sans-serif' font-weight="bold" font-style="normal" font-size="11.00" fill="#000">18</text>
<text transform="translate(401.80 509.80) scale(0.9200 1)" x="-12.21" y="0" font-family='"Liberation Sans", sans-serif' font-weight="bold" font-style="normal" font-size="11.00" fill="#000">20</text>
<text transform="translate(418.50 687.60) scale(0.9200 1)" x="-3.05" y="0" font-family='"Liberation Sans", sans-serif' font-weight="bold" font-style="normal" font-size="11.00" fill="#000">0</text>
<text transform="translate(469.22 687.60) scale(0.9200 1)" x="-6.11" y="0" font-family='"Liberation Sans", sans-serif' font-weight="bold" font-style="normal" font-size="11.00" fill="#000">20</text>
<text transform="translate(519.94 687.60) scale(0.9200 1)" x="-6.11" y="0" font-family='"Liberation Sans", sans-serif' font-weight="bold" font-style="normal" font-size="11.00" fill="#000">40</text>
<text transform="translate(570.66 687.60) scale(0.9200 1)" x="-6.11" y="0" font-family='"Liberation Sans", sans-serif' font-weight="bold" font-style="normal" font-size="11.00" fill="#000">60</text>
<text transform="translate(621.38 687.60) scale(0.9200 1)" x="-6.11" y="0" font-family='"Liberation Sans", sans-serif' font-weight="bold" font-style="normal" font-size="11.00" fill="#000">80</text>
<text transform="translate(672.10 687.60) scale(0.9200 1)" x="-9.19" y="0" font-family='"Liberation Sans", sans-serif' font-weight="bold" font-style="normal" font-size="11.00" fill="#000">100</text>
<text transform="translate(381.20 617.20) rotate(-90) scale(0.9529 1)" x="-0.00" y="0" font-family='"Liberation Sans", sans-serif' font-weight="bold" font-style="normal" font-size="12.00" fill="#000">Frequency</text>
<text transform="translate(514.80 699.90) scale(1.1186 1)" x="-0.00" y="0" font-family='"Liberation Serif", serif' font-weight="bold" font-style="italic" font-size="12.50" fill="#000">σ</text>
<text transform="translate(523.70 702.40) scale(0.7457 1)" x="-0.00" y="0" font-family='"Liberation Serif", serif' font-weight="bold" font-style="italic" font-size="10.30" fill="#000">Y</text>
<text transform="translate(533.90 700.20) scale(1.0018 1)" x="-0.00" y="0" font-family='"Liberation Sans", sans-serif' font-weight="bold" font-style="normal" font-size="12.00" fill="#000">(MPa)</text>
<text transform="translate(412.60 520.80) scale(0.9371 1)" x="-0.00" y="0" font-family='"Liberation Sans", sans-serif' font-weight="bold" font-style="normal" font-size="17.50" fill="#000">(f)</text>
<text transform="translate(104.40 42.20) scale(0.9877 1)" x="-0.00" y="0" font-family='"Liberation Serif", serif' font-weight="normal" font-style="normal" font-size="18.00" fill="#68DFD0">σ</text>
<text transform="translate(131.10 42.20) scale(0.8316 1)" x="-0.00" y="0" font-family='"Liberation Serif", serif' font-weight="bold" font-style="normal" font-size="19.00" fill="#68DFD0" stroke="#68DFD0" stroke-width="0.35">3</text>
<text transform="translate(141.60 42.20) scale(0.7789 1)" x="-0.00" y="0" font-family='"Liberation Serif", serif' font-weight="bold" font-style="normal" font-size="19.00" fill="#68DFD0" stroke="#68DFD0" stroke-width="0.35">1</text>
<text transform="translate(149.03 42.20)" x="-0.00" y="0" font-family='"Liberation Serif", serif' font-weight="bold" font-style="normal" font-size="19.00" fill="#68DFD0" stroke="#68DFD0" stroke-width="0.35">.</text>
<text transform="translate(156.50 42.20) scale(0.8526 1)" x="-0.00" y="0" font-family='"Liberation Serif", serif' font-weight="bold" font-style="normal" font-size="19.00" fill="#68DFD0" stroke="#68DFD0" stroke-width="0.35">9</text>
<text transform="translate(188.40 42.20) scale(0.8316 1)" x="-0.00" y="0" font-family='"Liberation Serif", serif' font-weight="bold" font-style="normal" font-size="19.00" fill="#68DFD0" stroke="#68DFD0" stroke-width="0.35">3</text>
<text transform="translate(197.80 42.20) scale(0.8632 1)" x="-0.00" y="0" font-family='"Liberation Serif", serif' font-weight="bold" font-style="normal" font-size="19.00" fill="#68DFD0" stroke="#68DFD0" stroke-width="0.35">0</text>
<text transform="translate(207.57 42.20)" x="-0.00" y="0" font-family='"Liberation Serif", serif' font-weight="bold" font-style="normal" font-size="19.00" fill="#68DFD0" stroke="#68DFD0" stroke-width="0.35">.</text>
<text transform="translate(215.70 42.20) scale(0.9158 1)" x="-0.00" y="0" font-family='"Liberation Serif", serif' font-weight="bold" font-style="normal" font-size="19.00" fill="#68DFD0" stroke="#68DFD0" stroke-width="0.35">2</text>
<text transform="translate(234.40 42.20) scale(1.1435 1)" x="-0.00" y="0" font-family='"Liberation Serif", serif' font-weight="bold" font-style="italic" font-size="18.00" fill="#68DFD0" stroke="#68DFD0" stroke-width="0.35">d</text>
<text transform="translate(245.80 42.20) scale(1.0705 1)" x="-0.00" y="0" font-family='"Liberation Serif", serif' font-weight="bold" font-style="italic" font-size="18.00" fill="#68DFD0" stroke="#68DFD0" stroke-width="0.35">ε</text>
<text transform="translate(253.70 46.00) scale(0.9317 1)" x="1.05" y="0" font-family='"Liberation Serif", serif' font-weight="bold" font-style="italic" font-size="14.00" fill="#68DFD0" stroke="#68DFD0" stroke-width="0.35">p</text>
<text transform="translate(266.00 43.40) scale(1.1385 1)" x="0.90" y="0" font-family='"Liberation Serif", serif' font-weight="normal" font-style="italic" font-size="18.00" fill="#68DFD0">/</text>
<text transform="translate(275.70 42.20) scale(1.1758 1)" x="-0.00" y="0" font-family='"Liberation Serif", serif' font-weight="bold" font-style="italic" font-size="18.00" fill="#68DFD0" stroke="#68DFD0" stroke-width="0.35">d</text>
<text transform="translate(287.10 42.20) scale(1.1840 1)" x="-0.00" y="0" font-family='"Liberation Serif", serif' font-weight="bold" font-style="italic" font-size="18.00" fill="#68DFD0" stroke="#68DFD0" stroke-width="0.35">t</text>
<text transform="translate(302.40 30.40) scale(0.9242 1)" x="-0.00" y="0" font-family='"Liberation Serif", serif' font-weight="bold" font-style="normal" font-size="13.20" fill="#68DFD0" stroke="#68DFD0" stroke-width="0.55">0</text>
<text transform="translate(309.10 30.40)" x="-0.00" y="0" font-family='"Liberation Serif", serif' font-weight="bold" font-style="normal" font-size="13.20" fill="#68DFD0" stroke="#68DFD0" stroke-width="0.55">.</text>
<text transform="translate(312.90 30.40) scale(0.9242 1)" x="-0.00" y="0" font-family='"Liberation Serif", serif' font-weight="bold" font-style="normal" font-size="13.20" fill="#68DFD0" stroke="#68DFD0" stroke-width="0.55">1</text>
<text transform="translate(319.90 30.40) scale(0.9242 1)" x="-0.00" y="0" font-family='"Liberation Serif", serif' font-weight="bold" font-style="normal" font-size="13.20" fill="#68DFD0" stroke="#68DFD0" stroke-width="0.55">0</text>
<path d="M232.35 27.40 Q222.35 37.30 232.35 47.20" fill="none" stroke="#68DFD0" stroke-width="1.50" stroke-linecap="round"/>
<line x1="115.30" y1="35.40" x2="125.80" y2="35.40" stroke="#68DFD0" stroke-width="1.50"/>
<line x1="115.30" y1="38.90" x2="125.80" y2="38.90" stroke="#68DFD0" stroke-width="1.50"/>
<line x1="172.20" y1="37.25" x2="181.90" y2="37.25" stroke="#68DFD0" stroke-width="1.65"/>
<line x1="177.05" y1="32.30" x2="177.05" y2="42.20" stroke="#68DFD0" stroke-width="1.65"/>
<path d="M295.75 27.40 Q304.95 37.30 295.75 47.20" fill="none" stroke="#68DFD0" stroke-width="1.50" stroke-linecap="round"/>
<text transform="translate(118.80 282.70) scale(0.8885 1)" x="-0.00" y="0" font-family='"Liberation Serif", serif' font-weight="bold" font-style="normal" font-size="19.00" fill="#68DFD0" stroke="#68DFD0" stroke-width="0.35">σ</text>
<text transform="translate(154.00 282.70) scale(0.8316 1)" x="-0.00" y="0" font-family='"Liberation Serif", serif' font-weight="bold" font-style="normal" font-size="19.00" fill="#68DFD0" stroke="#68DFD0" stroke-width="0.35">7</text>
<text transform="translate(161.43 282.70)" x="-0.00" y="0" font-family='"Liberation Serif", serif' font-weight="bold" font-style="normal" font-size="19.00" fill="#68DFD0" stroke="#68DFD0" stroke-width="0.35">.</text>
<text transform="translate(169.80 282.70) scale(0.8947 1)" x="-0.00" y="0" font-family='"Liberation Serif", serif' font-weight="bold" font-style="normal" font-size="19.00" fill="#68DFD0" stroke="#68DFD0" stroke-width="0.35">1</text>
<text transform="translate(201.10 282.70) scale(0.8632 1)" x="-0.00" y="0" font-family='"Liberation Serif", serif' font-weight="bold" font-style="normal" font-size="19.00" fill="#68DFD0" stroke="#68DFD0" stroke-width="0.35">6</text>
<text transform="translate(210.18 282.70)" x="-0.00" y="0" font-family='"Liberation Serif", serif' font-weight="bold" font-style="normal" font-size="19.00" fill="#68DFD0" stroke="#68DFD0" stroke-width="0.35">.</text>
<text transform="translate(218.00 282.70) scale(0.9158 1)" x="-0.00" y="0" font-family='"Liberation Serif", serif' font-weight="bold" font-style="normal" font-size="19.00" fill="#68DFD0" stroke="#68DFD0" stroke-width="0.35">8</text>
<text transform="translate(236.40 282.70) scale(1.1543 1)" x="-0.00" y="0" font-family='"Liberation Serif", serif' font-weight="bold" font-style="italic" font-size="18.00" fill="#68DFD0" stroke="#68DFD0" stroke-width="0.35">d</text>
<text transform="translate(247.60 282.70) scale(1.1789 1)" x="-0.00" y="0" font-family='"Liberation Serif", serif' font-weight="bold" font-style="italic" font-size="18.00" fill="#68DFD0" stroke="#68DFD0" stroke-width="0.35">ε</text>
<text transform="translate(256.30 286.50) scale(0.8323 1)" x="1.05" y="0" font-family='"Liberation Serif", serif' font-weight="bold" font-style="italic" font-size="14.00" fill="#68DFD0" stroke="#68DFD0" stroke-width="0.35">p</text>
<text transform="translate(268.10 283.90) scale(1.1248 1)" x="0.90" y="0" font-family='"Liberation Serif", serif' font-weight="normal" font-style="italic" font-size="18.00" fill="#68DFD0">/</text>
<text transform="translate(277.80 282.70) scale(1.2190 1)" x="-0.00" y="0" font-family='"Liberation Serif", serif' font-weight="bold" font-style="italic" font-size="18.00" fill="#68DFD0" stroke="#68DFD0" stroke-width="0.35">d</text>
<text transform="translate(289.10 282.70) scale(1.2022 1)" x="-0.00" y="0" font-family='"Liberation Serif", serif' font-weight="bold" font-style="italic" font-size="18.00" fill="#68DFD0" stroke="#68DFD0" stroke-width="0.35">t</text>
<text transform="translate(304.90 270.60) scale(0.8485 1)" x="-0.00" y="0" font-family='"Liberation Serif", serif' font-weight="bold" font-style="normal" font-size="13.20" fill="#68DFD0" stroke="#68DFD0" stroke-width="0.55">0</text>
<text transform="translate(310.70 270.60)" x="-0.00" y="0" font-family='"Liberation Serif", serif' font-weight="bold" font-style="normal" font-size="13.20" fill="#68DFD0" stroke="#68DFD0" stroke-width="0.55">.</text>
<text transform="translate(313.90 270.60) scale(0.9545 1)" x="-0.00" y="0" font-family='"Liberation Serif", serif' font-weight="bold" font-style="normal" font-size="13.20" fill="#68DFD0" stroke="#68DFD0" stroke-width="0.55">3</text>
<text transform="translate(321.80 270.60) scale(1.0000 1)" x="-0.00" y="0" font-family='"Liberation Serif", serif' font-weight="bold" font-style="normal" font-size="13.20" fill="#68DFD0" stroke="#68DFD0" stroke-width="0.55">0</text>
<path d="M234.65 267.20 Q225.25 277.35 234.65 287.50" fill="none" stroke="#68DFD0" stroke-width="1.50" stroke-linecap="round"/>
<line x1="133.30" y1="275.60" x2="143.70" y2="275.60" stroke="#68DFD0" stroke-width="1.70"/>
<line x1="133.30" y1="279.00" x2="143.70" y2="279.00" stroke="#68DFD0" stroke-width="1.70"/>
<line x1="184.60" y1="277.45" x2="194.40" y2="277.45" stroke="#68DFD0" stroke-width="1.65"/>
<line x1="189.50" y1="272.60" x2="189.50" y2="282.30" stroke="#68DFD0" stroke-width="1.65"/>
<path d="M297.45 267.40 Q306.85 277.25 297.45 287.10" fill="none" stroke="#68DFD0" stroke-width="1.50" stroke-linecap="round"/>
<text transform="translate(109.10 531.60) scale(0.9465 1)" x="-0.00" y="0" font-family='"Liberation Serif", serif' font-weight="normal" font-style="normal" font-size="18.00" fill="#68DFD0">σ</text>
<text transform="translate(136.20 531.60) scale(0.8340 1)" x="-0.00" y="0" font-family='"Liberation Sans", sans-serif' font-weight="normal" font-style="normal" font-size="17.50" fill="#68DFD0" stroke="#68DFD0" stroke-width="0.55">2</text>
<text transform="translate(145.40 531.60) scale(0.7825 1)" x="-0.00" y="0" font-family='"Liberation Sans", sans-serif' font-weight="normal" font-style="normal" font-size="17.50" fill="#68DFD0" stroke="#68DFD0" stroke-width="0.55">3</text>
<text transform="translate(153.35 531.60)" x="-0.00" y="0" font-family='"Liberation Sans", sans-serif' font-weight="normal" font-style="normal" font-size="17.50" fill="#68DFD0" stroke="#68DFD0" stroke-width="0.55">.</text>
<text transform="translate(159.20 531.60) scale(0.7825 1)" x="-0.00" y="0" font-family='"Liberation Sans", sans-serif' font-weight="normal" font-style="normal" font-size="17.50" fill="#68DFD0" stroke="#68DFD0" stroke-width="0.55">3</text>
<text transform="translate(189.50 531.60) scale(0.8632 1)" x="-0.00" y="0" font-family='"Liberation Serif", serif' font-weight="bold" font-style="normal" font-size="19.00" fill="#68DFD0" stroke="#68DFD0" stroke-width="0.35">1</text>
<text transform="translate(198.70 531.60) scale(0.8632 1)" x="-0.00" y="0" font-family='"Liberation Serif", serif' font-weight="bold" font-style="normal" font-size="19.00" fill="#68DFD0" stroke="#68DFD0" stroke-width="0.35">6</text>
<text transform="translate(207.73 531.60)" x="-0.00" y="0" font-family='"Liberation Serif", serif' font-weight="bold" font-style="normal" font-size="19.00" fill="#68DFD0" stroke="#68DFD0" stroke-width="0.35">.</text>
<text transform="translate(216.10 531.60) scale(0.9158 1)" x="-0.00" y="0" font-family='"Liberation Serif", serif' font-weight="bold" font-style="normal" font-size="19.00" fill="#68DFD0" stroke="#68DFD0" stroke-width="0.35">8</text>
<text transform="translate(234.70 531.60) scale(1.2082 1)" x="-0.00" y="0" font-family='"Liberation Serif", serif' font-weight="bold" font-style="italic" font-size="18.00" fill="#68DFD0" stroke="#68DFD0" stroke-width="0.35">d</text>
<text transform="translate(245.90 531.60) scale(1.1789 1)" x="-0.00" y="0" font-family='"Liberation Serif", serif' font-weight="bold" font-style="italic" font-size="18.00" fill="#68DFD0" stroke="#68DFD0" stroke-width="0.35">ε</text>
<text transform="translate(254.10 535.40) scale(0.9565 1)" x="1.05" y="0" font-family='"Liberation Serif", serif' font-weight="bold" font-style="italic" font-size="14.00" fill="#68DFD0" stroke="#68DFD0" stroke-width="0.35">p</text>
<text transform="translate(266.90 532.80) scale(1.1248 1)" x="0.90" y="0" font-family='"Liberation Serif", serif' font-weight="normal" font-style="italic" font-size="18.00" fill="#68DFD0">/</text>
<text transform="translate(276.50 531.60) scale(1.1650 1)" x="-0.00" y="0" font-family='"Liberation Serif", serif' font-weight="bold" font-style="italic" font-size="18.00" fill="#68DFD0" stroke="#68DFD0" stroke-width="0.35">d</text>
<text transform="translate(287.30 531.60) scale(1.1840 1)" x="-0.00" y="0" font-family='"Liberation Serif", serif' font-weight="bold" font-style="italic" font-size="18.00" fill="#68DFD0" stroke="#68DFD0" stroke-width="0.35">t</text>
<text transform="translate(303.00 519.20) scale(0.7727 1)" x="-0.00" y="0" font-family='"Liberation Serif", serif' font-weight="bold" font-style="normal" font-size="13.20" fill="#68DFD0" stroke="#68DFD0" stroke-width="0.55">0</text>
<text transform="translate(308.15 519.20)" x="-0.00" y="0" font-family='"Liberation Serif", serif' font-weight="bold" font-style="normal" font-size="13.20" fill="#68DFD0" stroke="#68DFD0" stroke-width="0.55">.</text>
<text transform="translate(313.50 519.20) scale(1.0000 1)" x="-0.00" y="0" font-family='"Liberation Serif", serif' font-weight="bold" font-style="normal" font-size="13.20" fill="#68DFD0" stroke="#68DFD0" stroke-width="0.55">3</text>
<text transform="translate(321.00 519.20) scale(0.9848 1)" x="-0.00" y="0" font-family='"Liberation Serif", serif' font-weight="bold" font-style="normal" font-size="13.20" fill="#68DFD0" stroke="#68DFD0" stroke-width="0.55">6</text>
<path d="M232.95 515.80 Q222.55 525.95 232.95 536.10" fill="none" stroke="#68DFD0" stroke-width="1.50" stroke-linecap="round"/>
<line x1="123.70" y1="524.90" x2="134.30" y2="524.90" stroke="#68DFD0" stroke-width="1.50"/>
<line x1="123.70" y1="528.40" x2="134.30" y2="528.40" stroke="#68DFD0" stroke-width="1.50"/>
<line x1="172.60" y1="526.05" x2="182.80" y2="526.05" stroke="#68DFD0" stroke-width="1.65"/>
<line x1="177.70" y1="520.90" x2="177.70" y2="531.20" stroke="#68DFD0" stroke-width="1.65"/>
<path d="M295.45 516.10 Q305.65 526.00 295.45 535.90" fill="none" stroke="#68DFD0" stroke-width="1.50" stroke-linecap="round"/>
</svg>
</body></html>
